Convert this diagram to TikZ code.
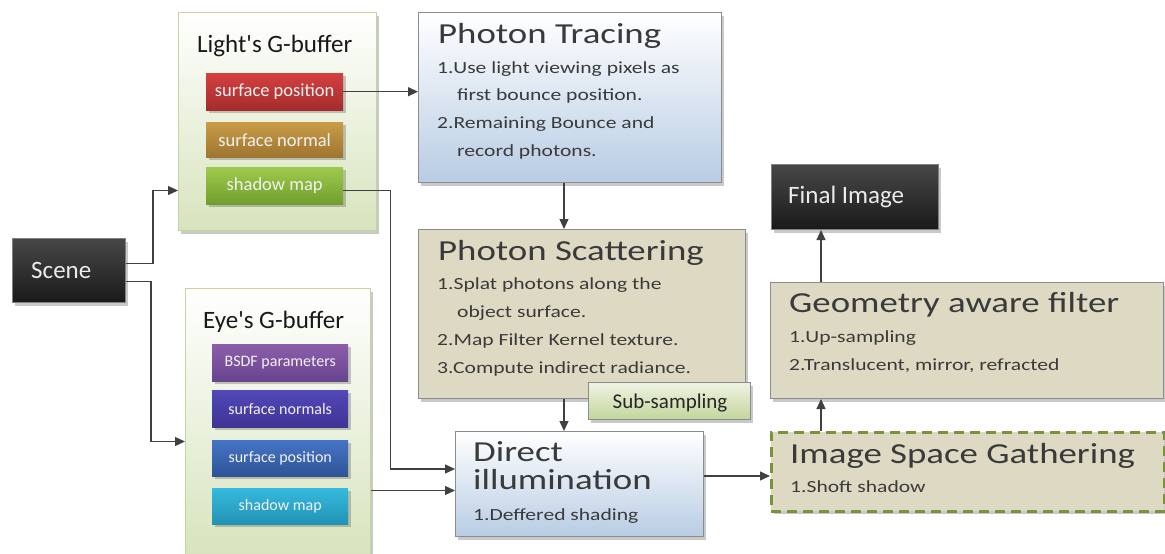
\documentclass[tikz,border=0pt]{standalone}
\usepackage{fontspec}
\setmainfont{Carlito}
\newfontfamily\wide[FakeStretch=1.27]{Carlito}
\newfontfamily\plainfont{Carlito}
\usetikzlibrary{arrows.meta,shadows,calc}
\definecolor{ink}{HTML}{404040}
\definecolor{txt}{HTML}{3A3A3A}
\definecolor{tan}{HTML}{DDD9C3}
\definecolor{bluebot}{HTML}{B8CCE4}
\definecolor{gbot}{HTML}{D7E4BD}
\definecolor{gborder}{HTML}{C3D69B}
\definecolor{subtop}{HTML}{EEF3E3}
\definecolor{bordergray}{HTML}{8C8C8C}
\definecolor{dashgreen}{HTML}{77933C}
\definecolor{c1t}{RGB}{212,64,64}\definecolor{c1b}{RGB}{164,44,44}
\definecolor{c2t}{RGB}{202,156,72}\definecolor{c2b}{RGB}{158,117,48}
\definecolor{c3t}{RGB}{158,202,76}\definecolor{c3b}{RGB}{112,158,46}
\definecolor{c4t}{RGB}{140,94,172}\definecolor{c4b}{RGB}{104,68,142}
\definecolor{c5t}{RGB}{82,72,184}\definecolor{c5b}{RGB}{62,52,148}
\definecolor{c6t}{RGB}{70,116,198}\definecolor{c6b}{RGB}{46,84,150}
\definecolor{c7t}{RGB}{54,186,222}\definecolor{c7b}{RGB}{34,146,180}
\begin{document}
\begin{tikzpicture}[x=1pt,y=-1pt,
  shd/.style={drop shadow={shadow xshift=2.5pt,shadow yshift=-3pt,opacity=0.3,fill=black!70}},
  gbuf/.style={shd,draw=gborder,line width=1pt,top color=white,bottom color=gbot,anchor=north west},
  bluebox/.style={shd,draw=bordergray,line width=1pt,top color=white,bottom color=bluebot,anchor=north west},
  tanbox/.style={shd,draw=bordergray,line width=1pt,fill=tan,anchor=north west},
  darkbox/.style={shd,draw=black!50,line width=1pt,top color=black!72,bottom color=black!90,anchor=north west},
  subbox/.style={shd,draw=bordergray,line width=1pt,top color=subtop,bottom color=gborder,anchor=north west},
  lbl/.style={shd,anchor=north west,minimum width=137pt,text=white!95!black,font=\fontsize{18.5}{20}\selectfont},
  elbl/.style={shd,anchor=north west,minimum width=136pt,text=white!95!black,font=\fontsize{16}{18}\selectfont},
  title/.style={anchor=base west,inner sep=0pt,text=txt,font=\wide\fontsize{29}{30}\selectfont},
  body/.style={anchor=base west,inner sep=0pt,text=txt,font=\wide\fontsize{17}{18}\selectfont},
  gtitle/.style={anchor=base west,inner sep=0pt,text=black!90,font=\plainfont\fontsize{25}{26}\selectfont},
  arr/.style={draw=ink,line width=1.3pt,-{Triangle[length=10pt,width=9pt]}}
]
\useasboundingbox (0,0) rectangle (1165,554);

% Light's G-buffer
\node[gbuf,minimum width=198pt,minimum height=218pt] (lgb) at (178,12) {};
\node[gtitle] (lgbt) at (197,52) {Light's G-buffer};
\node[lbl,minimum height=37pt,top color=c1t,bottom color=c1b] (lsp) at (206,73) {surface position};
\node[lbl,minimum height=35pt,top color=c2t,bottom color=c2b] (lsn) at (206,122) {surface normal};
\node[lbl,minimum height=37pt,top color=c3t,bottom color=c3b] (lsm) at (206,167) {shadow map};

% Scene
\node[darkbox,minimum width=113pt,minimum height=64pt] (scene) at (12,238) {};
\node[anchor=base west,inner sep=0pt,text=white!92!black,font=\fontsize{25}{26}\selectfont] (scenet) at (31,278) {Scene};

% Eye's G-buffer
\node[gbuf,minimum width=185pt,minimum height=268pt] (egb) at (185,288) {};
\node[gtitle] (egbt) at (203,328) {Eye's G-buffer};
\node[elbl,minimum height=37pt,top color=c4t,bottom color=c4b] (ebs) at (212,344) {BSDF parameters};
\node[elbl,minimum height=37pt,top color=c5t,bottom color=c5b] (esn) at (212,390) {surface normals};
\node[elbl,minimum height=36pt,top color=c6t,bottom color=c6b] (esp) at (212,440) {surface position};
\node[elbl,minimum height=36pt,top color=c7t,bottom color=c7b] (esm) at (212,488) {shadow map};

% Photon Tracing
\node[bluebox,minimum width=303pt,minimum height=170pt] (pt) at (418,12) {};
\node[title] (ptt) at (438,43) {Photon Tracing};
\node[body] (pt1) at (437,73) {1.Use light viewing pixels as};
\node[body] (pt2) at (457,100) {first bounce position.};
\node[body] (pt3) at (437,128) {2.Remaining Bounce and};
\node[body] (pt4) at (457,156) {record photons.};

% Photon Scattering
\node[tanbox,minimum width=327pt,minimum height=169pt] (ps) at (418,229) {};
\node[title] (pst) at (438,260) {Photon Scattering};
\node[body] (ps1) at (437,289) {1.Splat photons along the};
\node[body] (ps2) at (457,317) {object surface.};
\node[body] (ps3) at (437,345) {2.Map Filter Kernel texture.};
\node[body] (ps4) at (437,373) {3.Compute indirect radiance.};

% Sub-sampling
\node[subbox,minimum width=162pt,minimum height=37pt] (sub) at (588,382) {};
\node[anchor=base,inner sep=0pt,text=black!85,font=\fontsize{21}{22}\selectfont] (subt) at (670,408) {Sub-sampling};

% Direct illumination
\node[bluebox,minimum width=248pt,minimum height=105pt] (di) at (455,431) {};
\node[title] (dit1) at (473,461) {Direct};
\node[title] (dit2) at (473,489) {illumination};
\node[body] (di1) at (473,520) {1.Deffered shading};

% Final Image
\node[darkbox,minimum width=167pt,minimum height=65pt] (fi) at (771,164) {};
\node[anchor=base west,inner sep=0pt,text=white!92!black,font=\fontsize{25}{26}\selectfont] (fit) at (788,203) {Final Image};

% Geometry aware filter
\node[tanbox,minimum width=393pt,minimum height=116pt] (gaf) at (770,282) {};
\node[title] (gaft) at (789,312) {Geometry aware filter};
\node[body] (gaf1) at (789,342) {1.Up-sampling};
\node[body] (gaf2) at (789,370) {2.Translucent, mirror, refracted};

% Image Space Gathering
\node[shd,draw=dashgreen,line width=2.5pt,dash pattern=on 10pt off 6pt,fill=tan,anchor=north west,minimum width=393pt,minimum height=79pt] (isg) at (770,431) {};
\node[title] (isgt) at (790,463) {Image Space Gathering};
\node[body] (isg1) at (790,492) {1.Shoft shadow};

% Connectors
\draw[arr] ($(scene.east)+(0,-7)$) -- ++(27,0) |- ($(lgb.west)+(0,69)$);
\draw[arr] ($(scene.east)+(0,11)$) -- ++(25,0) |- ($(egb.west)+(0,19)$);
\draw[arr] (lsp.east) -- (lsp.east -| pt.west);
\draw[arr] ($(pt.south)+(-6,0)$) coordinate (a1) -- (a1 |- ps.north);
\draw[arr] (a1 |- ps.south) -- (a1 |- di.north);
\draw[arr] ($(lsm.east)+(0,5)$) -- ++(47,0) |- ($(di.west)+(0,-15)$);
\draw[arr] ($(egb.east)+(0,68)$) coordinate (a2) -- (a2 -| di.west);
\draw[arr] ($(di.east)+(0,-8)$) coordinate (a4) -- (a4 -| isg.west);
\draw[arr] ($(isg.north west)+(51,0)$) coordinate (a3) -- (a3 |- gaf.south);
\draw[arr] (a3 |- gaf.north) -- (a3 |- fi.south);
\end{tikzpicture}
\end{document}
